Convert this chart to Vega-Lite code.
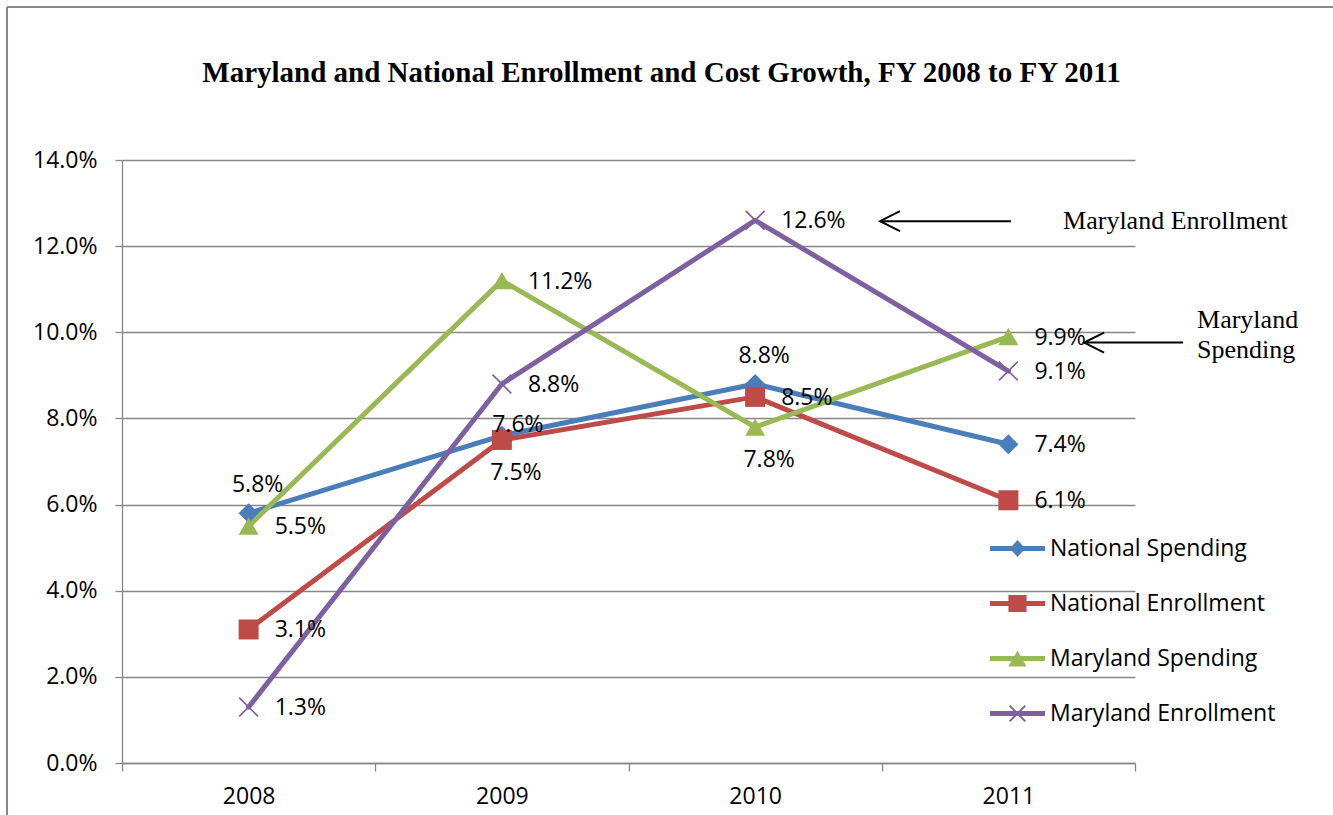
{
  "$schema": "https://vega.github.io/schema/vega-lite/v6.json",
  "width": 1013,
  "height": 603,
  "autosize": {"type": "none"},
  "padding": {"left": 122, "top": 160, "right": 198, "bottom": 52},
  "background": "white",
  "config": {"view": {"stroke": null}, "font": "Open Sans"},
  "title": {
    "text": "Maryland and National Enrollment and Cost Growth, FY 2008 to FY 2011",
    "font": "Liberation Serif",
    "fontSize": 29,
    "fontWeight": "bold",
    "color": "black",
    "anchor": "middle",
    "frame": "group",
    "dx": 33,
    "offset": -105,
    "baseline": "alphabetic"
  },
  "datasets": {
    "growth": [
      {"series": "National Spending", "year": 2008, "value": 0.058},
      {"series": "National Spending", "year": 2009, "value": 0.076},
      {"series": "National Spending", "year": 2010, "value": 0.088},
      {"series": "National Spending", "year": 2011, "value": 0.074},
      {"series": "National Enrollment", "year": 2008, "value": 0.031},
      {"series": "National Enrollment", "year": 2009, "value": 0.075},
      {"series": "National Enrollment", "year": 2010, "value": 0.085},
      {"series": "National Enrollment", "year": 2011, "value": 0.061},
      {"series": "Maryland Spending", "year": 2008, "value": 0.055},
      {"series": "Maryland Spending", "year": 2009, "value": 0.112},
      {"series": "Maryland Spending", "year": 2010, "value": 0.078},
      {"series": "Maryland Spending", "year": 2011, "value": 0.099},
      {"series": "Maryland Enrollment", "year": 2008, "value": 0.013},
      {"series": "Maryland Enrollment", "year": 2009, "value": 0.088},
      {"series": "Maryland Enrollment", "year": 2010, "value": 0.126},
      {"series": "Maryland Enrollment", "year": 2011, "value": 0.091}
    ],
    "arrows": [
      {"x1": 2010.493, "x2": 2011.01, "y": 0.1258},
      {"x1": 2011.299, "x2": 2011.69, "y": 0.0976}
    ],
    "notes": [
      {"label": "Maryland Enrollment", "x": 2011.216, "y": 0.1258},
      {"label": "Maryland", "x": 2011.745, "y": 0.10285},
      {"label": "Spending", "x": 2011.745, "y": 0.0959}
    ],
    "frame": [
      {"x1": 2007.046, "x2": 2012.4, "y1": 0.1755, "y2": 0.1755},
      {"x1": 2007.046, "x2": 2007.046, "y1": 0.1755, "y2": -0.03}
    ]
  },
  "data": {"name": "growth"},
  "encoding": {
    "x": {
      "field": "year",
      "type": "quantitative",
      "title": null,
      "scale": {"domain": [2007.5, 2011.5], "nice": false, "zero": false},
      "axis": {
        "values": [2007.5, 2008, 2008.5, 2009, 2009.5, 2010, 2010.5, 2011, 2011.5],
        "labelExpr": "datum.value % 1 == 0 ? format(datum.value, 'd') : ''",
        "title": null,
        "grid": false,
        "domainColor": "#868686",
        "domainWidth": 1.3,
        "tickColor": {"condition": {"test": "datum.value % 1 == 0", "value": "transparent"}, "value": "#868686"},
        "tickWidth": 1.3,
        "tickSize": 8,
        "labelFont": "Open Sans",
        "labelFontSize": 23,
        "labelColor": "black",
        "labelPadding": 14,
        "labelFlush": false,
        "labelOverlap": false
      }
    },
    "y": {
      "field": "value",
      "type": "quantitative",
      "title": null,
      "scale": {"domain": [0, 0.14], "nice": false},
      "axis": {
        "values": [0, 0.02, 0.04, 0.06, 0.08, 0.1, 0.12, 0.14],
        "format": ".1%",
        "title": null,
        "grid": true,
        "gridColor": "#868686",
        "gridWidth": 1.3,
        "domainColor": "#868686",
        "domainWidth": 1.3,
        "tickColor": "#868686",
        "tickWidth": 1.3,
        "tickSize": 7,
        "labelFont": "Open Sans",
        "labelFontSize": 23,
        "labelColor": "black",
        "labelPadding": 18
      }
    }
  },
  "layer": [
    {
      "mark": {"type": "line", "strokeWidth": 5, "strokeJoin": "round", "strokeCap": "round"},
      "encoding": {
        "color": {
          "field": "series",
          "type": "nominal",
          "scale": {
            "domain": ["National Spending", "National Enrollment", "Maryland Spending", "Maryland Enrollment"],
            "range": ["#4A7EBB", "#BE4B48", "#98B954", "#7D60A0"]
          },
          "legend": null
        }
      }
    },
    {
      "mark": {"type": "point", "filled": true, "size": 400, "opacity": 1},
      "encoding": {
        "color": {"field": "series", "type": "nominal", "legend": null},
        "shape": {
          "field": "series",
          "type": "nominal",
          "scale": {
            "domain": ["National Spending", "National Enrollment", "Maryland Spending", "Maryland Enrollment"],
            "range": ["diamond", "square", "triangle-up", "M-0.88,-1L1,0.88L0.88,1L-1,-0.88ZM0.88,-1L1,-0.88L-0.88,1L-1,0.88Z"]
          },
          "legend": null
        }
      }
    },
    {
      "transform": [{"filter": "!((datum.series == 'National Spending' && datum.year != 2011) || (datum.series == 'National Enrollment' && datum.year == 2009) || (datum.series == 'Maryland Spending' && datum.year == 2010))"}],
      "mark": {"type": "text", "align": "left", "baseline": "middle", "dx": 26, "dy": 1, "font": "Open Sans", "fontSize": 23, "color": "black"},
      "encoding": {"text": {"field": "value", "type": "quantitative", "format": ".1%"}}
    },
    {
      "transform": [{"filter": "datum.series == 'National Spending' && (datum.year == 2008 || datum.year == 2010)"}],
      "mark": {"type": "text", "align": "center", "baseline": "middle", "dx": 9, "dy": -28, "font": "Open Sans", "fontSize": 23, "color": "black"},
      "encoding": {"text": {"field": "value", "type": "quantitative", "format": ".1%"}}
    },
    {
      "transform": [{"filter": "datum.series == 'National Spending' && datum.year == 2009"}],
      "mark": {"type": "text", "align": "center", "baseline": "middle", "dx": 16, "dy": -11, "font": "Open Sans", "fontSize": 23, "color": "black"},
      "encoding": {"text": {"field": "value", "type": "quantitative", "format": ".1%"}}
    },
    {
      "transform": [{"filter": "(datum.series == 'National Enrollment' && datum.year == 2009) || (datum.series == 'Maryland Spending' && datum.year == 2010)"}],
      "mark": {"type": "text", "align": "center", "baseline": "middle", "dx": 14, "dy": 33, "font": "Open Sans", "fontSize": 23, "color": "black"},
      "encoding": {"text": {"field": "value", "type": "quantitative", "format": ".1%"}}
    },
    {
      "transform": [{"filter": "false"}],
      "mark": {"type": "point", "filled": true},
      "encoding": {
        "fill": {
          "field": "series",
          "type": "nominal",
          "scale": {
            "domain": ["National Spending", "National Enrollment", "Maryland Spending", "Maryland Enrollment"],
            "range": ["#4A7EBB", "#BE4B48", "#98B954", "#7D60A0"]
          },
          "legend": {
            "title": null, "orient": "none", "legendX": 868, "legendY": 361,
            "symbolSize": 3025, "labelFont": "Open Sans", "labelFontSize": 23, "labelColor": "black",
            "labelOffset": 5, "rowPadding": 15, "padding": 0, "symbolStrokeWidth": 0, "symbolOpacity": 1, "labelLimit": 400
          }
        },
        "shape": {
          "field": "series",
          "type": "nominal",
          "scale": {
            "domain": ["National Spending", "National Enrollment", "Maryland Spending", "Maryland Enrollment"],
            "range": [
              "M-1,-0.09L1,-0.09L1,0.09L-1,0.09ZM-0.28,0L0,-0.31L0.28,0L0,0.31Z",
              "M-1,-0.09L1,-0.09L1,0.09L-1,0.09ZM-0.33,-0.31L0.33,-0.31L0.33,0.31L-0.33,0.31Z",
              "M-1,-0.09L1,-0.09L1,0.09L-1,0.09ZM-0.33,0.29L0,-0.29L0.33,0.29Z",
              "M-1,-0.09L1,-0.09L1,0.09L-1,0.09ZM-0.26,-0.31L0.31,0.26L0.26,0.31L-0.31,-0.26ZM0.26,-0.31L0.31,-0.26L-0.26,0.31L-0.31,0.26Z"
            ]
          },
          "legend": {
            "title": null, "orient": "none", "legendX": 868, "legendY": 361,
            "symbolSize": 3025, "labelFont": "Open Sans", "labelFontSize": 23, "labelColor": "black",
            "labelOffset": 5, "rowPadding": 15, "padding": 0, "symbolStrokeWidth": 0, "symbolOpacity": 1, "labelLimit": 400
          }
        }
      }
    },
    {
      "data": {"name": "arrows"},
      "mark": {"type": "rule", "strokeWidth": 2, "color": "black"},
      "encoding": {
        "x": {"field": "x1", "type": "quantitative", "title": null},
        "x2": {"field": "x2"},
        "y": {"field": "y", "type": "quantitative", "title": null}
      }
    },
    {
      "data": {"name": "arrows"},
      "mark": {"type": "point", "filled": false, "shape": "M1,-0.5L0,0L1,0.5", "size": 1600, "strokeWidth": 2, "color": "black", "opacity": 1},
      "encoding": {
        "x": {"field": "x1", "type": "quantitative", "title": null},
        "y": {"field": "y", "type": "quantitative", "title": null}
      }
    },
    {
      "data": {"name": "notes"},
      "mark": {"type": "text", "align": "left", "baseline": "middle", "font": "Liberation Serif", "fontSize": 26, "color": "black"},
      "encoding": {
        "x": {"field": "x", "type": "quantitative", "title": null},
        "y": {"field": "y", "type": "quantitative", "title": null},
        "text": {"field": "label"}
      }
    },
    {
      "data": {"name": "frame"},
      "mark": {"type": "rule", "strokeWidth": 2, "color": "#898989"},
      "encoding": {
        "x": {"field": "x1", "type": "quantitative", "title": null},
        "x2": {"field": "x2"},
        "y": {"field": "y1", "type": "quantitative", "title": null},
        "y2": {"field": "y2"}
      }
    }
  ],
  "resolve": {"scale": {"shape": "independent", "fill": "independent"}}
}
